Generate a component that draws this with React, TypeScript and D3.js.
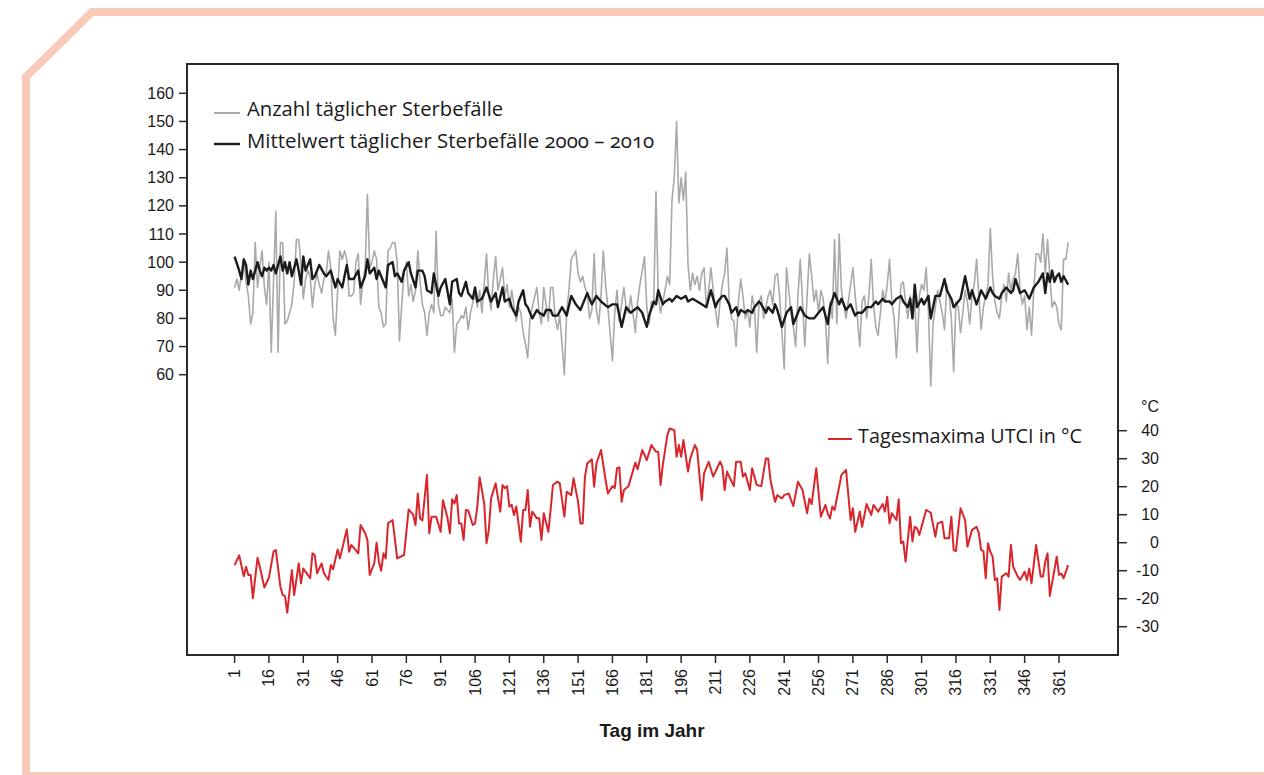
import React from "react";
import * as d3 from "d3";

// ---------- DATA ----------
const dayTicks = [1, 16, 31, 46, 61, 76, 91, 106, 121, 136, 151, 166, 181, 196, 211, 226, 241, 256, 271, 286, 301, 316, 331, 346, 361];
const deathTicks = [60, 70, 80, 90, 100, 110, 120, 130, 140, 150, 160];
const utciTicks = [-30, -20, -10, 0, 10, 20, 30, 40];

// Anzahl täglicher Sterbefälle: [Tag, Wert]
const dailyDeaths: [number, number][] = [
  [1, 91], [2, 94], [3, 90], [4, 96], [5, 101], [6, 93], [7, 88], [8, 78], [9, 82], [10, 107], [11, 91], [12, 98], [13, 104], [14, 91], [15, 85], [16, 100], [17, 68], [19, 118], [20, 68], [21, 107], [22, 107], [23, 78], [24, 79], [25, 82], [26, 85], [27, 93], [28, 108], [29, 108], [30, 99], [31, 87], [32, 94], [33, 97], [34, 95], [35, 84], [36, 92], [37, 96], [38, 92], [39, 89], [40, 94], [41, 96], [42, 104], [43, 98], [44, 80], [45, 74], [46, 90], [47, 104], [48, 101], [49, 104], [50, 101], [51, 88], [52, 88], [53, 89], [54, 100], [55, 103], [56, 85], [57, 93], [58, 98], [59, 124], [60, 98], [61, 100], [62, 104], [63, 101], [64, 84], [65, 82], [66, 77], [67, 78], [68, 104], [69, 105], [70, 107], [71, 107], [72, 100], [73, 72], [74, 85], [75, 96], [76, 100], [77, 88], [78, 92], [79, 86], [80, 90], [81, 104], [82, 93], [83, 85], [84, 82], [85, 74], [86, 82], [87, 85], [88, 82], [89, 111], [90, 85], [91, 81], [92, 81], [93, 84], [94, 83], [95, 82], [96, 87], [97, 68], [98, 78], [99, 79], [100, 81],
  [101, 80], [102, 84], [103, 76], [104, 82], [106, 89], [107, 84], [108, 90], [109, 82], [110, 92], [111, 103], [112, 88], [113, 83], [114, 94], [115, 102], [116, 90], [118, 98], [119, 88], [120, 92], [121, 84], [122, 90], [124, 79], [125, 84], [126, 82], [127, 75], [128, 71], [129, 66], [130, 80], [131, 84], [133, 91], [134, 82], [135, 78], [136, 91], [137, 85], [138, 79], [139, 91], [140, 91], [141, 80], [142, 76], [143, 81], [145, 60], [146, 82], [147, 90], [148, 101], [150, 104], [151, 96], [152, 93], [153, 95], [154, 91], [155, 89], [156, 80], [157, 83], [158, 103], [159, 83], [160, 78], [161, 88], [162, 104], [163, 92], [164, 84], [166, 65], [167, 82], [168, 90], [169, 79], [170, 85], [171, 91], [172, 84], [173, 82], [174, 88], [176, 75], [177, 86], [178, 92], [180, 102], [181, 84], [182, 78], [183, 86], [184, 84], [185, 125], [186, 88], [187, 82], [188, 86], [189, 90], [190, 95], [191, 92], [192, 122], [193, 130], [194, 150], [195, 121], [196, 130], [197, 122], [198, 132], [199, 99], [200, 90],
  [201, 96], [202, 92], [203, 95], [204, 90], [205, 96], [206, 98], [207, 84], [208, 90], [209, 98], [210, 90], [211, 83], [212, 77], [213, 86], [214, 92], [215, 96], [216, 105], [217, 86], [218, 80], [219, 79], [220, 70], [221, 86], [222, 94], [223, 88], [224, 80], [225, 83], [226, 77], [227, 88], [228, 84], [229, 68], [230, 86], [231, 88], [232, 80], [233, 84], [234, 88], [235, 90], [236, 85], [237, 95], [238, 96], [239, 88], [240, 75], [241, 62], [242, 98], [243, 90], [244, 82], [245, 77], [246, 70], [247, 88], [248, 101], [249, 86], [250, 70], [251, 88], [252, 103], [253, 95], [254, 86], [255, 90], [256, 82], [257, 90], [258, 87], [259, 80], [260, 64], [261, 86], [262, 80], [263, 108], [264, 78], [265, 110], [266, 90], [267, 85], [268, 80], [269, 86], [270, 92], [271, 98], [272, 88], [273, 80], [274, 70], [275, 86], [276, 88], [277, 80], [278, 88], [279, 101], [280, 85], [281, 77], [282, 74], [283, 82], [284, 90], [285, 86], [286, 92], [287, 101], [288, 86], [289, 80], [290, 66], [291, 80], [292, 92], [293, 93], [294, 86], [295, 80], [296, 88], [297, 80], [298, 86], [299, 68], [300, 88],
  [301, 92], [302, 90], [303, 98], [304, 82], [305, 56], [306, 78], [307, 84], [308, 90], [309, 86], [310, 82], [311, 76], [312, 92], [313, 88], [314, 80], [315, 61], [316, 86], [317, 84], [318, 75], [319, 82], [320, 90], [321, 86], [322, 78], [323, 88], [324, 92], [325, 101], [326, 88], [327, 76], [328, 84], [329, 88], [330, 92], [331, 112], [332, 95], [333, 86], [334, 82], [335, 80], [336, 88], [337, 92], [338, 86], [339, 96], [340, 90], [341, 94], [342, 96], [343, 103], [344, 90], [345, 85], [346, 88], [347, 76], [348, 84], [349, 74], [350, 90], [351, 103], [352, 103], [353, 100], [354, 110], [355, 96], [356, 108], [357, 95], [358, 84], [359, 86], [360, 84], [361, 78], [362, 76], [363, 101], [364, 101], [365, 107],
];

// Mittelwert täglicher Sterbefälle 2000 – 2010: [Tag, Wert]
const meanDeaths: [number, number][] = [
  [1, 102], [3, 97], [4, 94], [5, 101], [6, 99], [7, 92], [8, 97], [9, 94], [11, 100], [12, 97], [13, 95], [14, 98], [15, 97], [16, 98], [17, 97], [18, 99], [19, 96], [21, 102], [22, 97], [23, 100], [24, 96], [25, 100], [26, 95], [28, 101], [29, 97], [30, 92], [31, 102], [32, 97], [34, 101], [35, 94], [36, 95], [38, 99], [40, 96], [41, 95], [43, 97], [45, 91], [46, 94], [48, 91], [50, 99], [51, 94], [53, 94], [55, 97], [56, 91], [58, 95], [59, 101], [60, 96], [62, 98], [63, 94], [64, 97], [65, 95], [67, 91], [68, 99], [70, 100], [71, 95], [72, 96], [74, 93], [75, 97], [77, 100], [78, 96], [80, 91], [81, 97], [83, 97], [84, 95], [85, 90], [87, 89], [88, 96], [90, 88], [91, 91], [93, 94], [95, 85], [96, 93], [98, 94], [99, 89], [100, 88],
  [102, 93], [103, 89], [105, 87], [106, 91], [107, 86], [109, 87], [111, 91], [113, 86], [115, 89], [116, 84], [118, 91], [119, 86], [121, 87], [122, 84], [124, 81], [125, 86], [127, 90], [128, 85], [129, 84], [131, 80], [133, 83], [134, 82], [136, 81], [137, 83], [139, 83], [140, 81], [142, 81], [144, 84], [146, 81], [148, 88], [150, 85], [152, 83], [153, 85], [155, 89], [157, 85], [159, 88], [161, 86], [164, 84], [166, 85], [168, 85], [170, 77], [172, 84], [174, 82], [177, 84], [179, 82], [181, 77], [182, 81], [184, 86], [185, 85], [186, 90], [188, 85], [189, 86], [191, 87], [192, 86], [194, 88], [196, 87], [198, 88], [199, 86],
  [201, 87], [203, 86], [205, 85], [207, 84], [209, 90], [211, 84], [212, 86], [214, 88], [215, 88], [217, 85], [218, 82], [220, 84], [221, 81], [222, 83], [224, 82], [225, 83], [227, 82], [228, 84], [230, 86], [231, 85], [233, 82], [234, 84], [236, 82], [237, 85], [238, 83], [240, 77], [242, 82], [244, 84], [245, 78], [247, 82], [248, 84], [250, 81], [252, 80], [254, 80], [256, 82], [258, 84], [260, 78], [261, 84], [263, 89], [265, 85], [266, 87], [268, 83], [270, 85], [272, 81], [273, 82], [275, 82], [277, 84], [279, 84], [281, 86], [282, 85], [284, 87], [285, 86], [287, 86], [288, 85], [290, 87], [292, 88], [293, 86], [295, 84], [296, 87], [297, 80], [298, 92], [299, 84],
  [301, 87], [302, 85], [304, 88], [305, 80], [307, 88], [309, 88], [311, 94], [312, 90], [314, 87], [315, 84], [317, 86], [318, 87], [320, 95], [322, 87], [323, 90], [325, 85], [327, 90], [329, 87], [331, 91], [332, 89], [333, 88], [335, 87], [336, 89], [338, 91], [340, 89], [341, 90], [342, 94], [344, 89], [346, 90], [348, 87], [350, 91], [351, 92], [352, 93], [354, 96], [355, 89], [356, 96], [357, 93], [358, 97], [359, 93], [360, 95], [361, 96], [362, 93], [363, 95], [365, 92],
];

// Tagesmaxima UTCI in °C: [Tag, Wert]
const utciMax: [number, number][] = [
  [1, -8], [3, -4.5], [5, -12], [6, -8.6], [7, -11.5], [8, -11.5], [9, -19.8], [11, -5.4], [12, -8.6], [14, -16], [16, -12.5], [18, -3.2], [19, -2.6], [21, -15.7], [22, -18.7], [23, -19], [24, -25], [26, -9.8], [27, -18.7], [29, -7.4], [30, -14.5], [31, -9.2], [32, -10.4], [34, -12.7], [35, -3.8], [36, -4.4], [37, -10.9], [39, -7.4], [40, -10.9], [42, -13.3], [43, -8], [44, -9.5], [46, -2.4], [47, -5.6], [50, 4.8], [51, -3.2], [52, -0.8], [55, -3.8], [56, 6.3], [58, 3.4], [59, 1], [60, -11.5], [62, -7.4], [63, 0], [64, -6.8], [65, -10], [66, -3.8], [67, -5.6], [68, 6.9], [70, 8.1], [72, -5.6], [75, -4.4], [77, 11.9], [79, 9.9], [80, 6.3], [81, 17.6], [82, 8.7], [83, 7.9], [85, 24.2], [86, 3.4], [87, 9.3], [89, 9.3], [91, 3.9], [92, 15.2], [94, 8.7], [95, 3.4], [96, 15.5], [97, 14], [98, 17], [99, 6.9], [100, 6.9],
  [101, 1], [102, 11.7], [103, 11.5], [105, 6.3], [106, 6.9], [107, 12.9], [108, 23.4], [110, 14], [111, -0.2], [112, 4.5], [113, 15.8], [115, 21.2], [117, 11.1], [118, 20.6], [119, 19.5], [120, 20.2], [121, 12.9], [122, 13.5], [123, 9.9], [124, 12.9], [126, 0.4], [127, 11.7], [128, 11.7], [129, 18.8], [130, 5.7], [131, 11.1], [133, 8.7], [134, 8.7], [135, 1], [136, 10.5], [138, 3.9], [139, 11.7], [140, 20.6], [142, 21.8], [143, 21.2], [145, 9.3], [146, 18.2], [148, 17], [149, 23], [151, 14.6], [152, 6.9], [153, 6.9], [154, 23.6], [155, 28.3], [157, 29.8], [158, 20], [159, 28.3], [161, 33.1], [163, 22.4], [164, 17.6], [166, 20.2], [167, 19.5], [168, 26.6], [169, 26.9], [170, 14.6], [171, 18.8], [173, 20.2], [176, 28.6], [177, 26.2], [179, 33.1], [181, 29.5], [183, 34.9], [185, 32.5], [186, 32.5], [187, 20.6], [188, 27.8], [190, 38.5], [191, 40.8], [193, 40.2], [194, 30.7], [195, 34.9], [196, 30.7], [197, 36.7], [199, 25.4], [200, 30.1],
  [202, 34.9], [203, 33.1], [205, 15.2], [206, 24.8], [208, 28.9], [210, 23.6], [213, 28.9], [214, 27.1], [215, 18.8], [216, 25.4], [217, 23.6], [219, 20.2], [220, 28.9], [222, 28.9], [223, 23.6], [224, 24.8], [226, 18.8], [227, 26.6], [228, 23.6], [229, 20.6], [231, 20.2], [233, 30.1], [234, 30.1], [235, 22.4], [237, 14.6], [238, 17], [240, 15.8], [241, 17], [243, 17.6], [244, 15.2], [245, 13.1], [247, 21.8], [249, 18.8], [251, 10.5], [252, 15.8], [253, 13.8], [255, 26.6], [257, 9.3], [259, 13.5], [260, 10.5], [261, 8.7], [262, 12.9], [263, 11.7], [266, 24.2], [268, 26], [270, 8.1], [271, 12.3], [272, 3.9], [274, 11.1], [275, 5.7], [277, 13.8], [279, 9.9], [280, 13.5], [282, 11.1], [284, 13.8], [285, 11.1], [286, 16.4], [287, 6.9], [288, 10.5], [290, 8.1], [291, 15.5], [292, -0.2], [293, 0.4], [294, -6.8], [296, 9.3], [297, 0.4], [298, 5.7], [299, 5.1], [300, 2.8],
  [303, 11.7], [305, 10.7], [307, 2.1], [308, 6.9], [310, 7.5], [311, 1.6], [313, 1.6], [314, 9.3], [315, -2.6], [316, -3], [318, 12.3], [320, 8.1], [321, -1.4], [323, 4.5], [324, 5.1], [325, 5.7], [326, 3.4], [327, -2.6], [328, -3], [329, -12.7], [330, -0.2], [331, -3.2], [332, -5], [333, -13.3], [334, -12.7], [335, -24], [336, -12.1], [338, -10.9], [339, -12.1], [340, -0.8], [341, -8.6], [343, -12.1], [344, -13.3], [346, -10.4], [347, -13.3], [348, -9.2], [349, -14.5], [351, -0.8], [353, -12.1], [354, -12.1], [355, -6.8], [356, -3.8], [357, -19], [360, -5], [361, -11.5], [362, -11], [363, -12.7], [365, -8],
];

const legendDaily = "Anzahl täglicher Sterbefälle";
const legendMean = "Mittelwert täglicher Sterbefälle 2000 – 2010";
const legendUtci = "Tagesmaxima UTCI in °C";
const xTitle = "Tag im Jahr";
const rightUnit = "°C";

// ---------- LAYOUT ----------
const W = 1264;
const H = 775;
const box = { left: 187, top: 64, right: 1118, bottom: 655 };
const axisFont = "'Liberation Sans', Arial, Helvetica, sans-serif";
const legendFont = "'Open Sans', 'Noto Sans', sans-serif";
const frameColor = "#f8cbb8";
const grayColor = "#a7a9ab";
const blackColor = "#1b1b1b";
const redColor = "#d9262c";

export default function App() {
  const x = d3.scaleLinear().domain([1, 361]).range([234.6, 1059]);
  const yL = d3.scaleLinear().domain([60, 160]).range([374.7, 93.3]);
  const yR = d3.scaleLinear().domain([-30, 40]).range([626.7, 430.7]);

  const lineL = d3
    .line<[number, number]>()
    .x((d) => x(d[0]))
    .y((d) => yL(d[1]));
  const lineR = d3
    .line<[number, number]>()
    .x((d) => x(d[0]))
    .y((d) => yR(d[1]));

  const framePath = `M26,${H + 10} L26,77 L92,12 L${W + 10},12`;

  return (
    <svg
      width={W}
      height={H}
      viewBox={`0 0 ${W} ${H}`}
      style={{ position: "absolute", left: 0, top: 0, background: "#fff" }}
    >
      <rect x={0} y={0} width={W} height={H} fill="#fff" />
      {/* decorative frame */}
      <path d={framePath} fill="none" stroke={frameColor} strokeWidth={8} strokeLinejoin="miter" />
      <line x1={22} x2={W + 10} y1={776} y2={776} stroke={frameColor} strokeWidth={8} />

      {/* series */}
      <path d={lineL(dailyDeaths) || ""} fill="none" stroke={grayColor} strokeWidth={1.6} strokeLinejoin="round" />
      <path d={lineL(meanDeaths) || ""} fill="none" stroke={blackColor} strokeWidth={2.4} strokeLinejoin="round" />
      <path d={lineR(utciMax) || ""} fill="none" stroke={redColor} strokeWidth={2} strokeLinejoin="round" />

      {/* plot box */}
      <rect
        x={box.left}
        y={box.top}
        width={box.right - box.left}
        height={box.bottom - box.top}
        fill="none"
        stroke="#2a2a2a"
        strokeWidth={2}
      />

      {/* left axis */}
      <g fontFamily={axisFont} fontSize={16} fill="#1a1a1a">
        {deathTicks.map((t) => (
          <g key={"l" + t}>
            <line x1={box.left - 8} x2={box.left} y1={yL(t)} y2={yL(t)} stroke="#2a2a2a" strokeWidth={1.5} />
            <text x={box.left - 13} y={yL(t)} textAnchor="end" dominantBaseline="central">
              {t}
            </text>
          </g>
        ))}
      </g>

      {/* right axis */}
      <g fontFamily={axisFont} fontSize={16} fill="#1a1a1a">
        {utciTicks.map((t) => (
          <g key={"r" + t}>
            <line x1={box.right} x2={box.right + 9} y1={yR(t)} y2={yR(t)} stroke="#2a2a2a" strokeWidth={1.5} />
            <text x={1159} y={yR(t)} textAnchor="end" dominantBaseline="central">
              {t}
            </text>
          </g>
        ))}
        <text x={1159} y={yR(40) - 24} textAnchor="end" dominantBaseline="central">
          {rightUnit}
        </text>
      </g>

      {/* bottom axis */}
      <g fontFamily={axisFont} fontSize={16} fill="#1a1a1a">
        {dayTicks.map((t) => (
          <g key={"b" + t}>
            <line x1={x(t)} x2={x(t)} y1={box.bottom} y2={box.bottom + 8} stroke="#2a2a2a" strokeWidth={1.5} />
            <text
              transform={`translate(${x(t)},${box.bottom + 14}) rotate(-90)`}
              textAnchor="end"
              dominantBaseline="central"
            >
              {t}
            </text>
          </g>
        ))}
        <text x={652} y={737} textAnchor="middle" fontWeight="bold" fontSize={19}>
          {xTitle}
        </text>
      </g>

      {/* legends */}
      <g fontFamily={legendFont} fill="#1a1a1a" style={{ fontVariantNumeric: "oldstyle-nums" }}>
        <line x1={214} x2={240} y1={113} y2={113} stroke={grayColor} strokeWidth={2} />
        <text x={247} y={116} fontSize={20.2}>{legendDaily}</text>
        <line x1={214} x2={240} y1={144} y2={144} stroke={blackColor} strokeWidth={2.4} />
        <text x={247} y={148} fontSize={20.4}>{legendMean}</text>
        <line x1={828} x2={852} y1={439} y2={439} stroke={redColor} strokeWidth={2} />
        <text x={858} y={443} fontSize={19.8}>{legendUtci}</text>
      </g>
    </svg>
  );
}
